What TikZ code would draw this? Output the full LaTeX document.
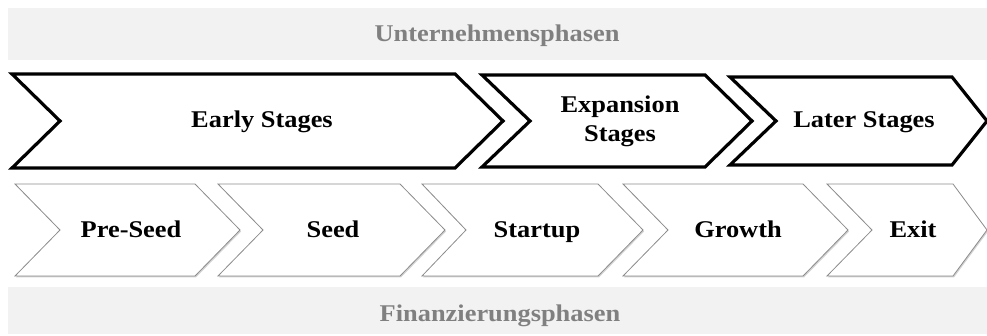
\documentclass[tikz,border=0pt]{standalone}
\usepackage{fontspec}
\setmainfont[FakeStretch=1.1]{Liberation Serif}
\usetikzlibrary{shadows}

\begin{document}
\begin{tikzpicture}[x=1pt,y=-1pt,
        band/.style={fill=black!5,draw=none},
        bandtext/.style={text=black!50,font=\fontsize{24}{28}\selectfont\bfseries,
            text height=17pt,text depth=5pt},
        stage/.style={draw=black,line width=3.2pt,fill=white,line join=miter},
        phase/.style={draw=black!45,line width=0.8pt,fill=white,line join=miter,
            drop shadow={opacity=0.35,shadow xshift=1pt,shadow yshift=-1.5pt}},
        chevtext/.style={align=center,font=\fontsize{24}{29}\selectfont\bfseries,
            text height=17pt,text depth=5pt}]
        \useasboundingbox (0,0) rectangle (987,336);

        % Baender
        \fill[band] (8,8) rectangle (987,60);
        \node[bandtext] (unternehmen) at (497,36) {Unternehmensphasen};
        \fill[band] (8,287) rectangle (987,334);
        \node[bandtext] (finanzierung) at (500,316) {Finanzierungsphasen};

        % Unternehmensphasen
        \draw[stage] (12,74)--(455,74)--(503,121)--(455,168)--(12,168)--(60,121)--cycle;
        \node[chevtext] (early) at (262,122) {Early Stages};
        \draw[stage] (482,75)--(705,75)--(752,121)--(705,167)--(482,167)--(530,121)--cycle;
        \node[chevtext] (expansion) at (620,136) {Expansion\\Stages};
        \draw[stage] (730,77)--(952,77)--(987,121)--(952,165)--(730,165)--(776,121)--cycle;
        \node[chevtext] (later) at (864,122) {Later Stages};

        % Finanzierungsphasen
        \draw[phase] (15,184)--(195,184)--(240,230)--(195,276)--(15,276)--(60,230)--cycle;
        \node[chevtext] (preseed) at (131,232) {Pre-Seed};
        \draw[phase] (218,184)--(400,184)--(445,230)--(400,276)--(218,276)--(263,230)--cycle;
        \node[chevtext] (seed) at (333,232) {Seed};
        \draw[phase] (422,184)--(598,184)--(643,230)--(598,276)--(422,276)--(466,230)--cycle;
        \node[chevtext] (startup) at (537,232) {Startup};
        \draw[phase] (623,184)--(803,184)--(848,230)--(803,276)--(623,276)--(668,230)--cycle;
        \node[chevtext] (growth) at (738,232) {Growth};
        \draw[phase] (827,184)--(953,184)--(987,230)--(953,276)--(827,276)--(872,230)--cycle;
        \node[chevtext] (exit) at (913,232) {Exit};
    \end{tikzpicture}
\end{document}
